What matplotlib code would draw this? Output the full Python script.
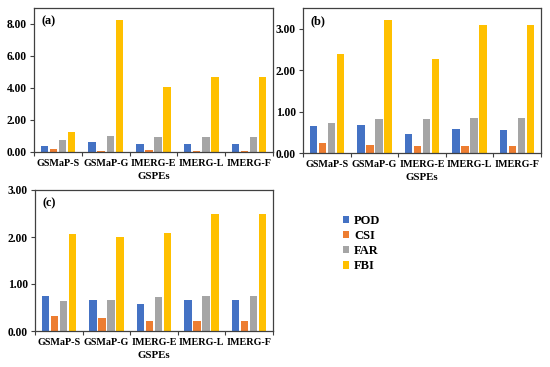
import matplotlib
matplotlib.use("Agg")
import matplotlib.pyplot as plt
import numpy as np
from matplotlib.patches import Patch
from matplotlib.ticker import FormatStrFormatter, FixedLocator

plt.rcParams['font.family'] = ['Liberation Serif', 'DejaVu Serif']
plt.rcParams['font.weight'] = 'bold'

categories = ["GSMaP-S", "GSMaP-G", "IMERG-E", "IMERG-L", "IMERG-F"]
metrics = ["POD", "CSI", "FAR", "FBI"]
colors = ["#4472C4", "#ED7D31", "#A5A5A5", "#FFC000"]

# panel (a)
a_pod = [0.36, 0.61, 0.48, 0.48, 0.48]
a_csi = [0.21, 0.08, 0.15, 0.08, 0.08]
a_far = [0.75, 1.00, 0.92, 0.92, 0.92]
a_fbi = [1.26, 8.26, 4.05, 4.70, 4.70]
# panel (b)
b_pod = [0.66, 0.68, 0.47, 0.58, 0.56]
b_csi = [0.25, 0.19, 0.17, 0.17, 0.17]
b_far = [0.72, 0.81, 0.81, 0.84, 0.84]
b_fbi = [2.39, 3.20, 2.28, 3.08, 3.08]
# panel (c)
c_pod = [0.74, 0.65, 0.58, 0.65, 0.65]
c_csi = [0.32, 0.28, 0.22, 0.22, 0.22]
c_far = [0.63, 0.67, 0.73, 0.74, 0.74]
c_fbi = [2.07, 2.00, 2.09, 2.50, 2.50]

panels = [
    ("(a)", [a_pod, a_csi, a_far, a_fbi], (0, 9), [0, 2, 4, 6, 8],
     [34/550, 1 - 152/367, 239/550, 144/367]),
    ("(b)", [b_pod, b_csi, b_far, b_fbi], (0, 3.5), [0, 1, 2, 3],
     [303/550, 1 - 153/367, 238/550, 145/367]),
    ("(c)", [c_pod, c_csi, c_far, c_fbi], (0, 3.0), [0, 1, 2, 3],
     [35/550, 1 - 331/367, 238/550, 141/367]),
]

fig = plt.figure(figsize=(5.5, 3.67), dpi=100)
x = np.arange(len(categories))
step = 0.19
width = 0.155
fx = 7.3
fy = 8.3

for label, series, ylim, yticks, rect in panels:
    ax = fig.add_axes(rect)
    for i, (vals, col) in enumerate(zip(series, colors)):
        ax.bar(x + (i - 1.5) * step, vals, width=width, color=col, zorder=2)
    ax.set_xlim(-0.5, len(categories) - 0.5)
    ax.set_ylim(*ylim)
    ax.set_yticks(yticks)
    ax.yaxis.set_major_formatter(FormatStrFormatter('%.2f'))
    ax.set_xticks(x)
    ax.set_xticklabels(categories, fontsize=fx, fontweight='bold')
    ax.xaxis.set_minor_locator(FixedLocator(np.arange(-0.5, len(categories), 1.0)))
    ax.tick_params(axis='x', which='major', length=0, pad=5)
    ax.tick_params(axis='x', which='minor', length=3, width=0.8, color='#404040')
    ax.tick_params(axis='y', length=3, width=0.8, labelsize=fy, color='#404040', pad=2)
    for t in ax.get_yticklabels():
        t.set_fontweight('bold')
    for s in ax.spines.values():
        s.set_color('#404040')
        s.set_linewidth(0.9)
    ax.set_xlabel("GSPEs", fontsize=7.8, fontweight='bold', labelpad=3)
    ax.text(0.03, 0.95, label, transform=ax.transAxes, fontsize=8.8,
            fontweight='bold', va='top', ha='left')

handles = [Patch(facecolor=c, edgecolor='none') for c in colors]
fig.legend(handles, metrics, loc='upper left', bbox_to_anchor=(343/550, 1 - 215/367),
           frameon=False, prop={'family': 'Liberation Serif', 'weight': 'bold', 'size': 9},
           handlelength=0.5, handleheight=0.5, handletextpad=0.4, labelspacing=0.25,
           borderpad=0, borderaxespad=0)

fig.savefig("out.png", dpi=100)
